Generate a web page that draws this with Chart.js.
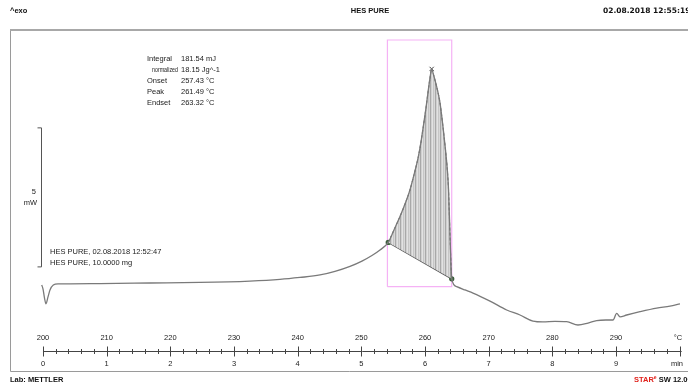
<!DOCTYPE html>
<html>
<head>
<meta charset="utf-8">
<script src="https://cdn.jsdelivr.net/npm/chart.js@4"></script>
<style>
  html, body { margin: 0; padding: 0; background: #fff; }
  #wrap { width: 688px; height: 385px; position: relative; }
</style>
</head>
<body>
<div id="wrap"><canvas id="dsc"></canvas></div>
<script>
// DSC-Kurve HES PURE (Temperatur °C / Wärmestrom mW, exo nach oben)
const tempC = [
  199.80, 200.00, 200.24, 200.47, 200.79, 201.10, 201.62, 202.36, 204.24, 208.95,
  216.81, 224.66, 232.51, 237.22, 240.37, 243.51, 245.86, 248.22, 250.10, 251.67,
  252.93, 254.23, 255.13, 256.07, 256.86, 257.64, 258.27, 258.95, 259.37, 259.73,
  260.16, 260.52, 260.79, 261.05, 261.26, 261.57, 261.96, 262.36, 262.88, 263.22,
  263.51, 263.70, 263.82, 263.98, 264.09, 264.20, 264.98, 266.29, 267.54, 270.21,
  272.83, 274.92, 276.96, 278.53, 280.42, 282.26, 284.03, 285.60, 286.97, 288.43,
  289.53, 290.11, 290.63, 291.68, 293.77, 296.39, 298.48, 300.05
];
const heatFlow = [
  0.54, 0.40, 0.07, -0.14, 0.11, 0.36, 0.54, 0.58, 0.58, 0.59,
  0.61, 0.63, 0.68, 0.74, 0.81, 0.90, 1.03, 1.21, 1.40, 1.60,
  1.80, 2.07, 2.52, 3.00, 3.45, 3.96, 4.50, 5.15, 5.68, 6.23,
  6.91, 7.55, 7.99, 8.31, 8.17, 7.91, 7.55, 7.09, 6.12, 5.40,
  4.68, 3.96, 3.13, 1.98, 1.26, 0.76, 0.48, 0.36, 0.25, -0.04,
  -0.36, -0.54, -0.76, -0.79, -0.77, -0.78, -0.90, -0.83, -0.74, -0.72,
  -0.72, -0.48, -0.61, -0.54, -0.42, -0.29, -0.22, -0.14
];

// Integrationsgrenzen (Index in tempC) und Basislinie
const onsetIndex = 21;
const peakIndex = 33;
const endsetIndex = 45;
const baselineTemp = [254.23, 264.20];
const baselineFlow = [2.07, 0.76];

// Auswertebereich (Rahmen)
const boxTemp = [254.1, 254.1, 264.2, 264.2, 254.1];
const boxFlow = [0.48, 9.35, 9.35, 0.48, 0.48];

// Achsen
const tempTicks = [200, 210, 220, 230, 240, 250, 260, 270, 280, 290];
const minuteTicks = [0, 1, 2, 3, 4, 5, 6, 7, 8, 9];
const tempMinorStep = 2;
const tempAxisEnd = 300;
const scaleBarFlow = [1.19, 6.19];

// Texte
const resultLabels = ["Integral", "normalized", "Onset", "Peak", "Endset"];
const resultValues = ["181.54 mJ", "18.15 Jg^-1", "257.43 °C", "261.49 °C", "263.32 °C"];
const sampleLines = ["HES PURE, 02.08.2018 12:52:47", "HES PURE, 10.0000 mg"];

const pts = (xs, ys) => xs.map((x, i) => ({ x: x, y: ys[i] }));
const curve = pts(tempC, heatFlow);
const peakPart = curve.slice(onsetIndex, endsetIndex + 1);

// Schraffur wie im Original (senkrechte Striche)
function hatch() {
    const c = document.createElement("canvas");
    c.width = 5; c.height = 4;
    const g = c.getContext("2d");
    const cols = ["#a8a8a8", "#d0d0d0", "#e2e2e2", "#c6c6c6", "#d8d8d8"];
    cols.forEach((col, i) => { g.fillStyle = col; g.fillRect(i, 0, 1, 4); });
    return g.createPattern(c, "repeat");
}

const FONT = "'Liberation Sans', Arial, sans-serif";

const decor = {
    id: "decor",
    beforeDraw(chart) {
        const ctx = chart.ctx;
        ctx.save();
        ctx.fillStyle = "#fff";
        ctx.fillRect(0, 0, chart.width, chart.height);
        ctx.restore();
    },
    afterDraw(chart) {
        const ctx = chart.ctx;
        const xs = chart.scales.x;
        const ys = chart.scales.y;
        const { top, bottom, left } = chart.chartArea;

        ctx.save();
        // Rahmen
        ctx.strokeStyle = "#9a9a9a";
        ctx.lineWidth = 1;
        ctx.beginPath();
        ctx.moveTo(690, bottom - 0.5);
        ctx.lineTo(left + 0.5, bottom - 0.5);
        ctx.lineTo(left + 0.5, top);
        ctx.stroke();
        ctx.lineWidth = 2;
        ctx.strokeStyle = "#a8a8a8";
        ctx.beginPath();
        ctx.moveTo(left, top);
        ctx.lineTo(690, top);
        ctx.stroke();

        // Kopf- und Fusszeile
        ctx.fillStyle = "#111";
        ctx.font = "bold 7.5px " + FONT;
        ctx.textBaseline = "middle";
        ctx.textAlign = "left";
        ctx.fillText("^exo", 10, 11);
        ctx.fillText("Lab: METTLER", 10, 380);
        ctx.textAlign = "center";
        ctx.fillText("HES PURE", 370, 11);
        ctx.textAlign = "left";
        ctx.font = "bold 7.5px 'DejaVu Sans', sans-serif";
        ctx.fillText("02.08.2018 12:55:19", 603, 11);
        ctx.font = "bold 7.5px " + FONT;
        ctx.fillStyle = "#e0201a";
        ctx.fillText("STAR", 634, 380);
        const w = ctx.measureText("STAR").width;
        ctx.font = "bold 5px " + FONT;
        ctx.fillText("e", 634 + w, 378);
        const we = ctx.measureText("e").width;
        ctx.font = "bold 7.5px " + FONT;
        ctx.fillStyle = "#111";
        ctx.fillText(" SW 12.00", 634 + w + we, 380);

        // Auswerteergebnisse
        ctx.font = "7.5px " + FONT;
        ctx.fillStyle = "#222";
        resultLabels.forEach((t, i) => {
            ctx.fillText(t, i === 1 ? 152 : 147, 59 + i * 11, i === 1 ? 26 : 30);
            ctx.fillText(resultValues[i], 181, 59 + i * 11);
        });
        sampleLines.forEach((t, i) => ctx.fillText(t, 50, 252 + i * 11));

        // Skalenbalken 5 mW
        const sx = 41.5;
        const y1 = ys.getPixelForValue(scaleBarFlow[1]);
        const y0 = ys.getPixelForValue(scaleBarFlow[0]);
        ctx.strokeStyle = "#555";
        ctx.lineWidth = 1;
        ctx.beginPath();
        ctx.moveTo(sx - 4, y1); ctx.lineTo(sx, y1); ctx.lineTo(sx, y0); ctx.lineTo(sx - 4, y0);
        ctx.stroke();
        ctx.textAlign = "right";
        ctx.fillText(String(scaleBarFlow[1] - scaleBarFlow[0]), 36, (y0 + y1) / 2 - 5);
        ctx.fillText("mW", 37, (y0 + y1) / 2 + 6);

        // Temperatur-/Zeitachse
        const ay = 351.5;
        const x0 = xs.getPixelForValue(tempTicks[0]);
        const x1 = xs.getPixelForValue(tempAxisEnd);
        ctx.strokeStyle = "#444";
        ctx.beginPath();
        ctx.moveTo(x0, ay); ctx.lineTo(x1 + 2, ay);
        for (let t = tempTicks[0]; t <= tempAxisEnd; t += tempMinorStep) {
            const px = Math.round(xs.getPixelForValue(t)) + 0.5;
            const h = (t % 10 === 0) ? 5 : 2.5;
            ctx.moveTo(px, ay - h); ctx.lineTo(px, ay + h);
        }
        ctx.stroke();
        ctx.textAlign = "center";
        ctx.fillStyle = "#222";
        tempTicks.forEach(t => ctx.fillText(String(t), xs.getPixelForValue(t), 338));
        minuteTicks.forEach((m, i) => ctx.fillText(String(m), xs.getPixelForValue(tempTicks[i]), 364));
        ctx.fillText("°C", 678, 338);
        ctx.fillText("min", 677, 364);
        ctx.restore();
    }
};

new Chart(document.getElementById("dsc"), {
    type: "line",
    plugins: [decor],
    data: {
        datasets: [
            {   // Messkurve
                data: curve,
                borderColor: "#7a7a7a",
                borderWidth: 1.3,
                pointRadius: 0,
                cubicInterpolationMode: "monotone",
                fill: false
            },
            {   // Peakflaeche gegen Basislinie
                data: peakPart,
                borderColor: "#5a5a5a",
                borderWidth: 1,
                borderDash: [3, 2],
                pointRadius: 0,
                cubicInterpolationMode: "monotone",
                backgroundColor: hatch(),
                fill: 2
            },
            {   // Basislinie
                data: pts(baselineTemp, baselineFlow),
                borderColor: "#555",
                borderWidth: 1.3,
                pointRadius: 2,
                pointBackgroundColor: "#4f7a4f",
                pointBorderColor: "#3c5c3c",
                fill: false
            },
            {   // Auswertebereich
                data: pts(boxTemp, boxFlow),
                borderColor: "#f5b2f5",
                borderWidth: 1.2,
                pointRadius: 0,
                tension: 0,
                fill: false
            },
            {   // Peakmarke
                data: [curve[peakIndex]],
                showLine: false,
                pointStyle: "crossRot",
                pointRadius: 3,
                borderColor: "#444",
                pointBorderWidth: 1
            }
        ]
    },
    options: {
        responsive: true,
        maintainAspectRatio: false,
        animation: false,
        layout: { autoPadding: false, padding: { left: 10, right: 0, top: 30, bottom: 13 } },
        scales: {
            x: { type: "linear", min: 194.82, max: 301.31, display: false },
            y: { type: "linear", min: -2.59, max: 9.71, display: false }
        },
        plugins: {
            legend: { display: false },
            tooltip: { enabled: false }
        }
    }
});
</script>
</body>
</html>
